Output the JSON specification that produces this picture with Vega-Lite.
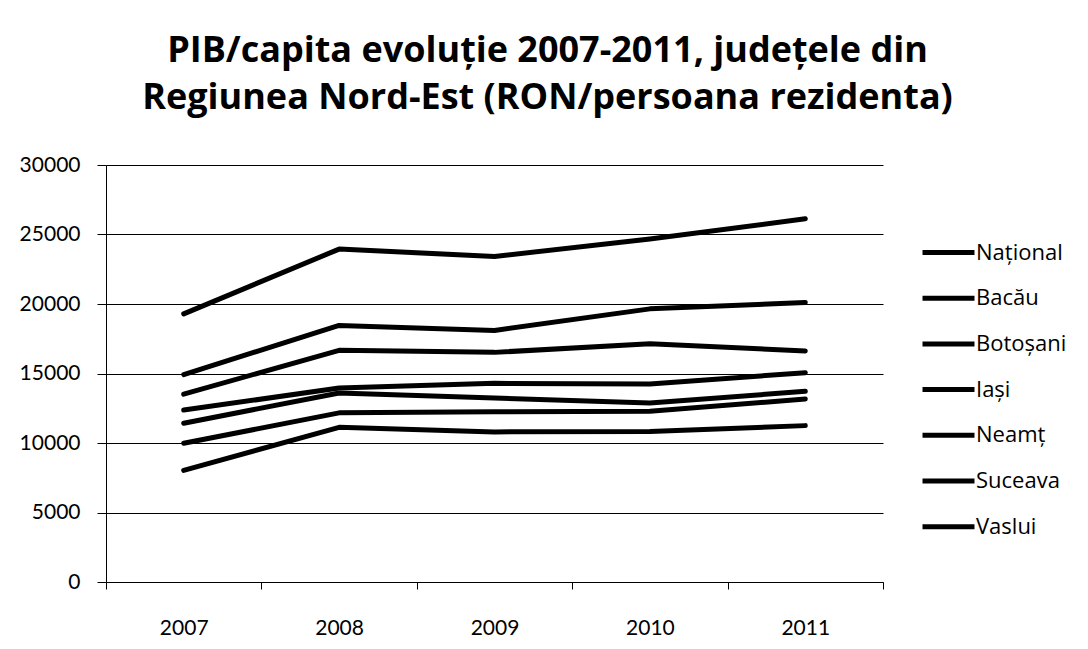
{
  "$schema": "https://vega.github.io/schema/vega-lite/v6.json",
  "width": 777,
  "height": 417,
  "autosize": {"type": "none"},
  "padding": {"left": 106, "top": 165, "right": 205, "bottom": 67},
  "background": "white",
  "title": {
    "text": ["PIB/capita evoluție 2007-2011, județele din", "Regiunea Nord-Est (RON/persoana rezidenta)"],
    "font": "Open Sans",
    "fontSize": 36,
    "fontWeight": "bold",
    "color": "black",
    "anchor": "middle",
    "frame": "group",
    "dx": 53,
    "lineHeight": 47,
    "baseline": "alphabetic",
    "offset": 9
  },
  "data": {
    "values": [
      {"judet": "Național", "an": "2007", "pib": 19290},
      {"judet": "Național", "an": "2008", "pib": 23950},
      {"judet": "Național", "an": "2009", "pib": 23420},
      {"judet": "Național", "an": "2010", "pib": 24680},
      {"judet": "Național", "an": "2011", "pib": 26130},
      {"judet": "Iași", "an": "2007", "pib": 14920},
      {"judet": "Iași", "an": "2008", "pib": 18460},
      {"judet": "Iași", "an": "2009", "pib": 18100},
      {"judet": "Iași", "an": "2010", "pib": 19650},
      {"judet": "Iași", "an": "2011", "pib": 20110},
      {"judet": "Bacău", "an": "2007", "pib": 13510},
      {"judet": "Bacău", "an": "2008", "pib": 16670},
      {"judet": "Bacău", "an": "2009", "pib": 16520},
      {"judet": "Bacău", "an": "2010", "pib": 17140},
      {"judet": "Bacău", "an": "2011", "pib": 16620},
      {"judet": "Suceava", "an": "2007", "pib": 12370},
      {"judet": "Suceava", "an": "2008", "pib": 13950},
      {"judet": "Suceava", "an": "2009", "pib": 14290},
      {"judet": "Suceava", "an": "2010", "pib": 14250},
      {"judet": "Suceava", "an": "2011", "pib": 15060},
      {"judet": "Neamț", "an": "2007", "pib": 11420},
      {"judet": "Neamț", "an": "2008", "pib": 13600},
      {"judet": "Neamț", "an": "2009", "pib": 13240},
      {"judet": "Neamț", "an": "2010", "pib": 12880},
      {"judet": "Neamț", "an": "2011", "pib": 13720},
      {"judet": "Botoșani", "an": "2007", "pib": 9980},
      {"judet": "Botoșani", "an": "2008", "pib": 12170},
      {"judet": "Botoșani", "an": "2009", "pib": 12250},
      {"judet": "Botoșani", "an": "2010", "pib": 12280},
      {"judet": "Botoșani", "an": "2011", "pib": 13170},
      {"judet": "Vaslui", "an": "2007", "pib": 8030},
      {"judet": "Vaslui", "an": "2008", "pib": 11130},
      {"judet": "Vaslui", "an": "2009", "pib": 10800},
      {"judet": "Vaslui", "an": "2010", "pib": 10820},
      {"judet": "Vaslui", "an": "2011", "pib": 11250}
    ]
  },
  "mark": {"type": "line", "strokeWidth": 5, "strokeCap": "round", "strokeJoin": "round"},
  "encoding": {
    "x": {
      "field": "an",
      "type": "ordinal",
      "bandPosition": 0.5,
      "scale": {"type": "band", "paddingInner": 0, "paddingOuter": 0},
      "axis": {
        "title": null,
        "labelAngle": 0,
        "tickBand": "extent",
        "tickSize": 7,
        "tickColor": "black",
        "domainColor": "black",
        "labelPadding": 28,
        "labelFont": "Lato",
        "labelFontSize": 21,
        "labelColor": "black",
        "grid": false
      }
    },
    "y": {
      "field": "pib",
      "type": "quantitative",
      "scale": {"domain": [0, 30000], "nice": false},
      "axis": {
        "title": null,
        "values": [0, 5000, 10000, 15000, 20000, 25000, 30000],
        "format": "d",
        "tickSize": 9,
        "tickColor": "black",
        "domainColor": "black",
        "gridColor": "black",
        "gridOpacity": 1,
        "labelPadding": 17,
        "labelFont": "Lato",
        "labelFontSize": 21,
        "labelColor": "black"
      }
    },
    "color": {
      "field": "judet",
      "type": "nominal",
      "scale": {
        "domain": ["Național", "Bacău", "Botoșani", "Iași", "Neamț", "Suceava", "Vaslui"],
        "range": ["black", "black", "black", "black", "black", "black", "black"]
      },
      "legend": {
        "title": null,
        "orient": "none",
        "legendX": 817,
        "legendY": 62,
        "padding": 0,
        "symbolType": "M-1.13,0H1.13",
        "symbolSize": 2116,
        "symbolStrokeWidth": 5,
        "symbolFillColor": "transparent",
        "labelOffset": 2,
        "rowPadding": 8.7,
        "labelFont": "Open Sans",
        "labelFontSize": 22,
        "labelColor": "black"
      }
    }
  },
  "config": {
    "view": {"stroke": null},
    "axis": {"domainWidth": 1, "tickWidth": 1, "gridWidth": 1}
  }
}
